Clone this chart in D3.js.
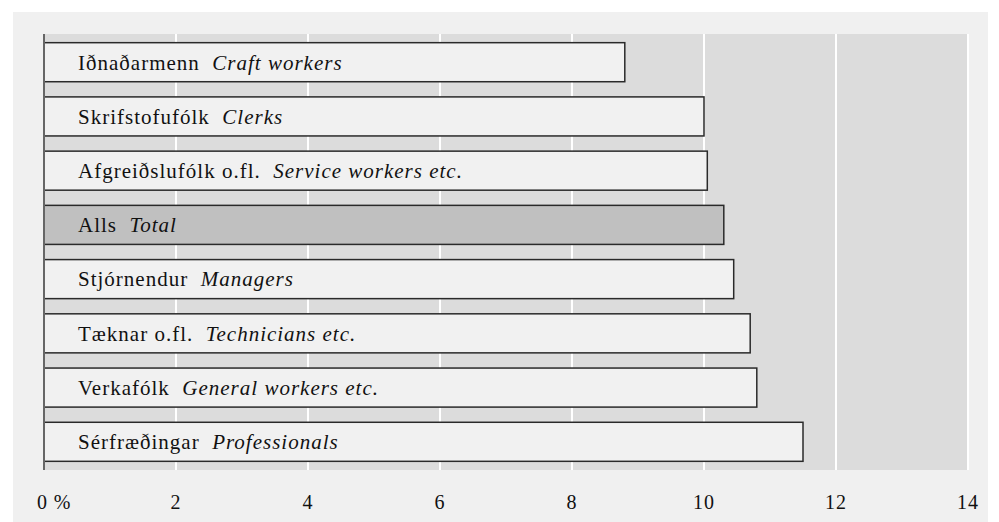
<!DOCTYPE html>
<html>
<head>
<meta charset="utf-8">
<script src="https://cdn.jsdelivr.net/npm/d3@7"></script>
<style>
  body { margin: 0; background: #fff; }
  svg text { font-family: "Liberation Serif", "DejaVu Serif", serif; fill: #111; }
</style>
</head>
<body>
<svg id="chart" width="999" height="522"></svg>
<script>
// Data
var labelsIs = ['Iðnaðarmenn', 'Skrifstofufólk', 'Afgreiðslufólk o.fl.', 'Alls', 'Stjórnendur', 'Tæknar o.fl.', 'Verkafólk', 'Sérfræðingar'];
var labelsEn = ['Craft workers', 'Clerks', 'Service workers etc.', 'Total', 'Managers', 'Technicians etc.', 'General workers etc.', 'Professionals'];
var values = [8.8, 10.0, 10.05, 10.3, 10.45, 10.7, 10.8, 11.5];
var xTicks = [0, 2, 4, 6, 8, 10, 12, 14];

var svg = d3.select('#chart');

// Outer panel
svg.append('rect')
    .attr('x', 13).attr('y', 12)
    .attr('width', 975).attr('height', 510)
    .attr('fill', '#f0f0f0');

var margin = {top: 34, left: 44, right: 968, bottom: 470};

var xScale = d3.scaleLinear().domain([0, 14]).range([margin.left, margin.right]);
var yScale = d3.scaleBand().domain(labelsIs).range([margin.top, margin.bottom]).paddingInner(0.28).paddingOuter(0.16);

// Plot area
svg.append('rect')
    .attr('x', margin.left).attr('y', margin.top)
    .attr('width', margin.right - margin.left).attr('height', margin.bottom - margin.top)
    .attr('fill', '#dcdcdc');

// Grid lines
svg.append('g').selectAll('line')
    .data(xTicks.slice(1))
    .enter().append('line')
    .attr('x1', function(d) { return xScale(d); })
    .attr('x2', function(d) { return xScale(d); })
    .attr('y1', margin.top)
    .attr('y2', margin.bottom)
    .attr('stroke', '#fff')
    .attr('stroke-width', 2);

// Bars
var bars = svg.append('g').selectAll('g')
    .data(labelsIs)
    .enter().append('g');

bars.append('rect')
    .attr('x', xScale(0))
    .attr('y', function(d) { return yScale(d); })
    .attr('width', function(d, i) { return xScale(values[i]) - xScale(0); })
    .attr('height', yScale.bandwidth())
    .attr('fill', function(d) { return d === 'Alls' ? '#c0c0c0' : '#f1f1f1'; })
    .attr('stroke', '#2a2a2a')
    .attr('stroke-width', 1.5);

var label = bars.append('text')
    .attr('x', 78)
    .attr('y', function(d) { return yScale(d) + yScale.bandwidth() / 2; })
    .attr('dy', '0.35em')
    .style('font-size', '21px')
    .style('letter-spacing', '1px');
label.append('tspan').text(function(d) { return d + '\u00a0\u00a0'; });
label.append('tspan').style('font-style', 'italic').text(function(d, i) { return labelsEn[i]; });

// Left axis line
svg.append('line')
    .attr('x1', margin.left).attr('x2', margin.left)
    .attr('y1', margin.top).attr('y2', margin.bottom)
    .attr('stroke', '#666')
    .attr('stroke-width', 2);

// X axis labels
svg.append('g').selectAll('text')
    .data(xTicks)
    .enter().append('text')
    .attr('x', function(d) { return d === 0 ? xScale(d) - 7 : xScale(d); })
    .attr('y', 509)
    .attr('text-anchor', function(d) { return d === 0 ? 'start' : 'middle'; })
    .style('font-size', '20px')
    .style('letter-spacing', '0.9px')
    .text(function(d) { return d === 0 ? '0 %' : d; });
</script>
</body>
</html>
